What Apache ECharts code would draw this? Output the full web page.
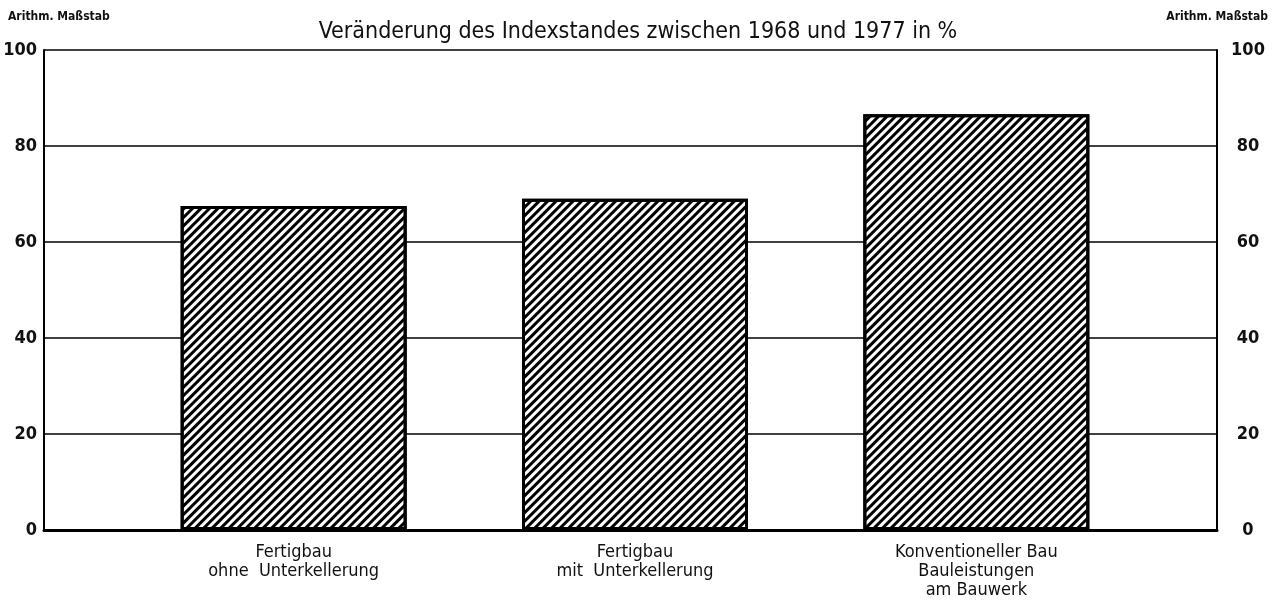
<!DOCTYPE html>
<html>
<head>
<meta charset="utf-8">
<script src="https://cdn.jsdelivr.net/npm/echarts@6/dist/echarts.min.js"></script>
<style>
html,body{margin:0;padding:0;background:#fff;}
#chart{width:1276px;height:602px;}
</style>
</head>
<body>
<div id="chart"></div>
<script>
const categories = [
  'Fertigbau\nohne  Unterkellerung',
  'Fertigbau\nmit  Unterkellerung',
  'Konventioneller Bau\nBauleistungen\nam Bauwerk'
];
const values = [67.5, 69, 86.6];
const yTicks = [0, 20, 40, 60, 80, 100];
const titleText = 'Veränderung des Indexstandes zwischen 1968 und 1977 in %';
const scaleNote = 'Arithm. Maßstab';

const FONT = '"Liberation Sans Narrow", "DejaVu Sans Condensed", "Liberation Sans", sans-serif';

const chart = echarts.init(document.getElementById('chart'));
const yMin = yTicks[0], yMax = yTicks[yTicks.length - 1], yStep = yTicks[1] - yTicks[0];

chart.setOption({
  backgroundColor: '#fff',
  animation: false,
  title: {
    text: titleText,
    left: 'center',
    top: 16,
    textStyle: { fontFamily: FONT, fontSize: 23, fontWeight: 'normal', color: '#111' }
  },
  graphic: [
    { type: 'text', left: 8, top: 11, style: { text: scaleNote, font: 'bold 12px ' + FONT, fill: '#111' } },
    { type: 'text', right: 8, top: 11, style: { text: scaleNote, font: 'bold 12px ' + FONT, fill: '#111' } }
  ],
  grid: [
    { left: 44, right: 59, top: 50, bottom: 72 },
    { left: 123, right: 129, top: 50, bottom: 72 }
  ],
  xAxis: [
    {
      gridIndex: 0, type: 'value', min: 0, max: 1,
      axisLine: { show: true, onZero: false, lineStyle: { color: '#000', width: 3 } },
      axisTick: { show: false }, axisLabel: { show: false }, splitLine: { show: false }
    },
    {
      gridIndex: 1, type: 'category', data: categories,
      axisLine: { show: false }, axisTick: { show: false },
      axisLabel: { fontFamily: FONT, fontSize: 18, color: '#111', margin: 13, lineHeight: 19, interval: 0 }
    }
  ],
  yAxis: [
    {
      gridIndex: 0, type: 'value', position: 'left', min: yMin, max: yMax, interval: yStep,
      axisLine: { show: true, lineStyle: { color: '#000', width: 2 } },
      axisTick: { show: false },
      axisLabel: { fontFamily: FONT, fontSize: 18, fontWeight: 'bold', color: '#111', margin: 7 },
      splitLine: { show: true, lineStyle: { color: '#000', width: 1.5 } }
    },
    {
      gridIndex: 0, type: 'value', position: 'right', min: yMin, max: yMax, interval: yStep,
      axisLine: { show: true, lineStyle: { color: '#000', width: 2 } },
      axisTick: { show: false },
      axisLabel: { fontFamily: FONT, fontSize: 18, fontWeight: 'bold', color: '#111', margin: 31, align: 'center' },
      splitLine: { show: false }
    },
    {
      gridIndex: 1, type: 'value', min: yMin, max: yMax, show: false
    }
  ],
  series: [
    {
      type: 'bar',
      xAxisIndex: 1, yAxisIndex: 2,
      data: values,
      barWidth: 226,
      itemStyle: {
        color: '#fff',
        borderColor: '#000',
        borderWidth: 3,
        decal: {
          symbol: 'rect',
          symbolSize: 1,
          color: '#000',
          dashArrayX: [1, 0],
          dashArrayY: [3, 3],
          rotation: -Math.PI / 4
        }
      }
    }
  ]
});
</script>
</body>
</html>
